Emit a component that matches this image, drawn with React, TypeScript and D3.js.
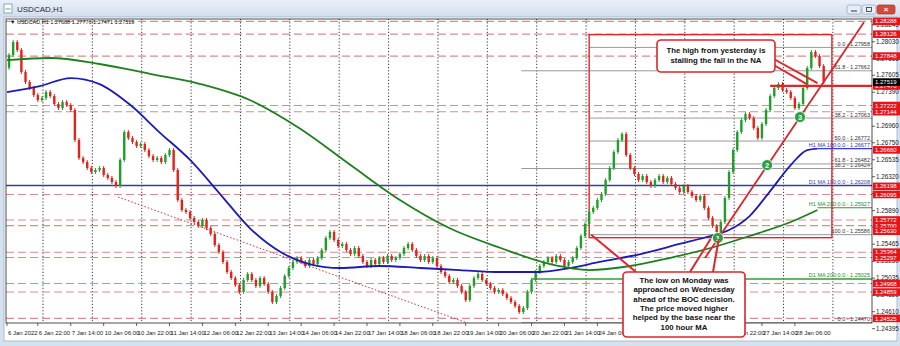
import React from "react";
import * as d3 from "d3";

const W = 900, H = 346;
const PL = 6, PT = 19, PR = 872, PB = 323;

// ---- DATA ----
const firstOpen = 1.277;
// 2-hour closes
const closes = [
  1.27862, 1.28026, 1.27925, 1.27646, 1.2752, 1.27444, 1.27355, 1.27292, 1.27317, 1.27393,
  1.27342, 1.27241, 1.2719, 1.27266, 1.27228, 1.27165, 1.26785, 1.26557, 1.26506, 1.2643,
  1.2638, 1.26405, 1.2643, 1.26342, 1.26304, 1.26253, 1.26202, 1.26532, 1.26886, 1.2681,
  1.2676, 1.26709, 1.26734, 1.26658, 1.26582, 1.26532, 1.26557, 1.26506, 1.26595, 1.26658,
  1.26405, 1.26025, 1.25898, 1.25873, 1.25797, 1.25746, 1.25696, 1.25772, 1.2567, 1.25594,
  1.25455, 1.25366, 1.2524, 1.25113, 1.25037, 1.24948, 1.2486, 1.25012, 1.25088, 1.25012,
  1.24936, 1.25037, 1.24961, 1.2486, 1.24733, 1.24809, 1.2491, 1.25062, 1.25164, 1.2524,
  1.2529, 1.2524, 1.25189, 1.25265, 1.25214, 1.2529, 1.25392, 1.25544, 1.2562, 1.25518,
  1.25442, 1.25468, 1.25392, 1.25341, 1.25417, 1.25316, 1.2524, 1.25189, 1.25265, 1.25214,
  1.2529, 1.2524, 1.25316, 1.25265, 1.2529, 1.25341, 1.25417, 1.25468, 1.25392, 1.25316,
  1.25265, 1.25316, 1.2524, 1.2529, 1.25189, 1.25113, 1.25062, 1.24986, 1.25012, 1.24936,
  1.2486, 1.24758, 1.24936, 1.25037, 1.25088, 1.25012, 1.24961, 1.2491, 1.2486, 1.24885,
  1.24834, 1.24784, 1.24733, 1.24682, 1.24606, 1.24657, 1.2486, 1.25012, 1.25113, 1.25189,
  1.2524, 1.2529, 1.2524, 1.25316, 1.25265, 1.25189, 1.2524, 1.2529, 1.25417, 1.25569,
  1.25721, 1.25873, 1.25924, 1.26025, 1.26101, 1.26278, 1.2643, 1.26633, 1.26785, 1.26861,
  1.26595, 1.2643, 1.26354, 1.26278, 1.26329, 1.26253, 1.26202, 1.26278, 1.26329, 1.26253,
  1.26304, 1.26228, 1.26177, 1.26126, 1.26202, 1.26126, 1.26076, 1.26025, 1.26076, 1.25924,
  1.25797, 1.25696, 1.2562, 1.25746, 1.2605, 1.2638, 1.26658, 1.26886, 1.27038, 1.27114,
  1.27064, 1.26937, 1.2681, 1.26988, 1.27165, 1.27342, 1.27444, 1.27494, 1.27418, 1.27393,
  1.27317, 1.2719, 1.27241, 1.27444, 1.27697, 1.279, 1.27849, 1.27722, 1.27519,
];

const xLabels = [
  "6 Jan 2022", "6 Jan 22:00", "7 Jan 14:00", "10 Jan 06:00", "10 Jan 22:00", "11 Jan 14:00",
  "12 Jan 06:00", "12 Jan 22:00", "13 Jan 14:00", "14 Jan 06:00", "14 Jan 22:00", "17 Jan 14:00",
  "18 Jan 06:00", "18 Jan 22:00", "19 Jan 14:00", "20 Jan 06:00", "20 Jan 22:00", "21 Jan 14:00",
  "24 Jan 06:00", "24 Jan 22:00", "25 Jan 14:00", "26 Jan 06:00", "26 Jan 22:00", "27 Jan 14:00",
  "28 Jan 06:00",
];

const yTicks = [
  1.24395, 1.2461, 1.2482, 1.25035, 1.2525, 1.25465, 1.2568, 1.2589, 1.26105, 1.2632,
  1.26535, 1.2675, 1.2696, 1.27175, 1.2739, 1.27605, 1.27815, 1.2803, 1.28245,
];

const redLevels = [
  1.28288, 1.28126, 1.27848, 1.27222, 1.27144, 1.2666, 1.26198, 1.26095, 1.25772, 1.257,
  1.2563, 1.25364, 1.25297, 1.24968, 1.24859, 1.24525,
];
const dashedLevels = [
  1.28288, 1.28126, 1.27848, 1.27222, 1.27144, 1.26095, 1.25772, 1.257, 1.25364, 1.25297,
  1.24968, 1.24859, 1.24525,
];
const keyLevel = 1.2747;
const lastPrice = 1.27519;

const ma100Hours = [0, 16, 31, 45, 60, 74, 89, 104, 118, 133, 147, 162, 181, 201, 220, 240, 259, 274, 288, 308, 327, 342, 351, 361, 371, 381, 389, 394];
const ma100Vals = [1.27393, 1.27469, 1.2757, 1.27494, 1.27228, 1.26886, 1.26532, 1.26088, 1.2567, 1.25366, 1.25214, 1.25164, 1.25189, 1.25164, 1.25138, 1.25113, 1.25113, 1.25164, 1.2524, 1.25341, 1.25468, 1.25569, 1.25645, 1.25822, 1.26138, 1.26468, 1.26658, 1.26677];
const ma200Hours = [0, 21, 45, 70, 94, 118, 142, 167, 191, 215, 240, 264, 283, 303, 322, 342, 361, 381, 394];
const ma200Vals = [1.27798, 1.27824, 1.27748, 1.27621, 1.27494, 1.27292, 1.26937, 1.26468, 1.26025, 1.2567, 1.25417, 1.25214, 1.25138, 1.25189, 1.2529, 1.25417, 1.25569, 1.25746, 1.25898];

const h1Ma100 = 1.26677, h1Ma200 = 1.25927, d1Ma100 = 1.26208, d1Ma200 = 1.25025;

const fibBNames = ["0.0", "38.2", "50.0", "61.8", "100.0"];
const fibBVals = [1.27958, 1.27063, 1.26772, 1.26482, 1.25586];
const fibANames = ["0.0", "38.2", "61.8"];
const fibAVals = [1.2447, 1.26424, 1.27662];

const circleNames = ["1", "2", "3"];
const circleHours = [345.6, 369.5, 385.5];
const circleVals = [1.25544, 1.26468, 1.27076];

const trendHours = [339.3, 416.6];
const trendVals = [1.2529, 1.28278];
const dotHours = [54, 225];
const dotVals = [1.26063, 1.24455];
const boxHours = [283, 401];
const boxVals = [1.2812, 1.25586];

const note1 = ["The high from yesterday is", "stalling the fall in the NA"];
const note2 = [
  "The low on Monday was", "approached on Wednesday", "ahead of the BOC decision.",
  "The price moved higher", "helped by the base near the", "100 hour MA",
];

export default function App() {
  const x = d3.scaleLinear().domain([0, 420.5]).range([PL + 1, PR]);
  const y = d3.scaleLinear().domain([1.24467, 1.28318]).range([PB, PT]);
  const f = "'Liberation Sans', Arial, sans-serif";

  const candles = closes.map((c, i) => {
    const o = i === 0 ? firstOpen : closes[i - 1];
    return { h: 2 * i + 1, o, c };
  });

  const line = d3.line<number>().curve(d3.curveMonotoneX);
  const ma100Path = line(ma100Hours.map((h, i) => [x(h), y(ma100Vals[i])] as any) as any);
  const ma200Path = line(ma200Hours.map((h, i) => [x(h), y(ma200Vals[i])] as any) as any);

  const gridHours = d3.range(17.5, 420, 24);
  const labelHours = xLabels.map((_, k) => (k === 0 ? 0 : 15 + 16 * (k - 1)));

  return (
    <svg width={W} height={H} style={{ position: "absolute", left: 0, top: 0, fontFamily: f }}>
      <defs>
        <linearGradient id="tb" x1="0" y1="0" x2="0" y2="1">
          <stop offset="0" stopColor="#eaf0f8" />
          <stop offset="1" stopColor="#d3deeb" />
        </linearGradient>
        <clipPath id="plot">
          <rect x={PL} y={PT} width={PR - PL} height={PB - PT} />
        </clipPath>
      </defs>
      {/* window chrome */}
      <rect x={0} y={0} width={W} height={H} fill="#d6e1ee" />
      <rect x={0} y={0} width={W} height={17} fill="url(#tb)" />
      <rect x={4} y={4} width={8} height={9} fill="#fff" stroke="#7a93b3" strokeWidth={0.8} />
      <line x1={5.5} y1={9} x2={10.5} y2={9} stroke="#5a9" strokeWidth={1} />
      <text x={17} y={11.5} fontSize={8} fill="#1e2a3a">USDCAD,H1</text>
      <rect x={847} y={5} width={14} height={9} rx={2} fill="#e6edf6" stroke="#8ea3bd" strokeWidth={0.7} />
      <line x1={851} y1={11} x2={857} y2={11} stroke="#333" strokeWidth={1} />
      <rect x={862} y={5} width={14} height={9} rx={2} fill="#e6edf6" stroke="#8ea3bd" strokeWidth={0.7} />
      <rect x={866.5} y={7.5} width={5} height={4} fill="none" stroke="#333" strokeWidth={0.8} />
      <rect x={877} y={5} width={18} height={9} rx={2} fill="#d9473a" stroke="#a83228" strokeWidth={0.7} />
      <text x={886} y={12.3} fontSize={8} fill="#fff" textAnchor="middle" fontWeight="bold">×</text>
      <rect x={4} y={17} width={893} height={324} fill="#fff" stroke="#9fb3cb" strokeWidth={0.8} />

      {/* grid */}
      {gridHours.map((h, i) => (
        <line key={"g" + i} x1={x(h)} x2={x(h)} y1={PT} y2={PB} stroke="#000" strokeWidth={0.8} strokeDasharray="1.2 2" />
      ))}

      <g clipPath="url(#plot)">
        {dashedLevels.map((v, i) => (
          <line key={"d" + i} x1={PL} x2={PR} y1={y(v)} y2={y(v)} stroke="#d98c8c" strokeWidth={1.1} strokeDasharray="8 4" />
        ))}
        {fibAVals.map((v, i) => (
          <g key={"fa" + i}>
            <line x1={x(250)} x2={PR} y1={y(v)} y2={y(v)} stroke="#9a9a9a" strokeWidth={1} />
            <text x={PR - 2} y={y(v) - 1.5} fontSize={5.5} textAnchor="end" fill="#333">{fibANames[i]} - {v.toFixed(5)}</text>
          </g>
        ))}
        {fibBVals.map((v, i) => (
          <g key={"fb" + i}>
            <line x1={x(283)} x2={PR} y1={y(v)} y2={y(v)} stroke="#9a9a9a" strokeWidth={1} />
            <text x={PR - 2} y={y(v) - 1.5} fontSize={5.5} textAnchor="end" fill="#333">{fibBNames[i]} - {v.toFixed(5)}</text>
          </g>
        ))}
        <line x1={PL} x2={PR} y1={y(d1Ma100)} y2={y(d1Ma100)} stroke="#3b3ba8" strokeWidth={1.4} />
        <text x={PR - 2} y={y(d1Ma100) - 1.5} fontSize={5.5} textAnchor="end" fill="#3b3ba8">D1 MA 100:0.0 - {d1Ma100.toFixed(5)}</text>
        <line x1={x(255)} x2={PR} y1={y(d1Ma200)} y2={y(d1Ma200)} stroke="#3a9a3a" strokeWidth={1.4} />
        <text x={PR - 2} y={y(d1Ma200) - 1.5} fontSize={5.5} textAnchor="end" fill="#2a8a2a">D1 MA 200:0.0 - {d1Ma200.toFixed(5)}</text>

        <rect x={x(boxHours[0])} y={y(boxVals[0])} width={x(boxHours[1]) - x(boxHours[0])} height={y(boxVals[1]) - y(boxVals[0]) + 3} fill="none" stroke="#e0262b" strokeWidth={1.4} />

        <line x1={x(dotHours[0])} y1={y(dotVals[0])} x2={x(dotHours[1])} y2={y(dotVals[1])} stroke="#d03030" strokeWidth={1} strokeDasharray="1.5 2" />

        {candles.map((d, i) => {
          const up = d.c >= d.o;
          const col = up ? "#1f9e2a" : "#e2231a";
          const top = y(Math.max(d.o, d.c));
          const bot = y(Math.min(d.o, d.c));
          const cx = x(d.h);
          return (
            <g key={"c" + i}>
              <line x1={cx} x2={cx} y1={top - 2} y2={bot + 2} stroke={col} strokeWidth={1} />
              <rect x={cx - 1.2} y={top} width={2.4} height={Math.max(1, bot - top)} fill={col} />
            </g>
          );
        })}

        <path d={ma100Path || ""} fill="none" stroke="#1c1cb4" strokeWidth={1.8} />
        <path d={ma200Path || ""} fill="none" stroke="#1f7f1f" strokeWidth={1.8} />
        <line x1={x(394)} x2={PR} y1={y(h1Ma100)} y2={y(h1Ma100)} stroke="#3b3bd0" strokeWidth={1.2} />
        <text x={PR - 2} y={y(h1Ma100) - 1.5} fontSize={5.5} textAnchor="end" fill="#3030c0">H1 MA 100:0.0 - {h1Ma100.toFixed(5)}</text>
        <line x1={x(394)} x2={PR} y1={y(h1Ma200)} y2={y(h1Ma200)} stroke="#2a9a2a" strokeWidth={1.2} />
        <text x={PR - 2} y={y(h1Ma200) - 1.5} fontSize={5.5} textAnchor="end" fill="#2a8a2a">H1 MA 200:0.0 - {h1Ma200.toFixed(5)}</text>

        <line x1={x(371)} x2={PR} y1={y(keyLevel)} y2={y(keyLevel)} stroke="#e0262b" strokeWidth={2.2} />

        <line x1={x(trendHours[0])} y1={y(trendVals[0])} x2={x(trendHours[1])} y2={y(trendVals[1])} stroke="#d8262b" strokeWidth={1.8} />

        {circleNames.map((n, i) => (
          <g key={"ci" + i}>
            <circle cx={x(circleHours[i])} cy={y(circleVals[i])} r={5.5} fill="#2f9c46" stroke="#fff" strokeWidth={0.8} />
            <text x={x(circleHours[i])} y={y(circleVals[i]) + 2.6} fontSize={7.5} fill="#fff" textAnchor="middle" fontWeight="bold">{n}</text>
          </g>
        ))}
        <text x={PL + 4} y={PT + 5} fontSize={5.5} fill="#111">▼ USDCAD,H1  1.27688 1.27776 1.27471 1.27519</text>
      </g>

      <rect x={PL} y={PT} width={PR - PL} height={PB - PT} fill="none" stroke="#222" strokeWidth={0.8} />

      {yTicks.map((v, i) => (
        <g key={"yt" + i}>
          <line x1={PR} x2={PR + 3} y1={y(v)} y2={y(v)} stroke="#222" strokeWidth={0.7} />
          <text x={PR + 4} y={y(v) + 2.2} fontSize={6.3} fill="#222">{v.toFixed(5)}</text>
        </g>
      ))}
      {redLevels.concat([keyLevel]).map((v, i) => (
        <g key={"rl" + i}>
          <rect x={PR + 1} y={y(v) - 3.8} width={27} height={7.6} fill="#e3161c" />
          <text x={PR + 3} y={y(v) + 2.1} fontSize={6} fill="#fff">{v.toFixed(5)}</text>
        </g>
      ))}
      <rect x={PR + 1} y={y(lastPrice) - 3.8} width={27} height={7.6} fill="#000" />
      <text x={PR + 3} y={y(lastPrice) + 2.1} fontSize={6} fill="#fff">{lastPrice.toFixed(5)}</text>

      {xLabels.map((t, k) => (
        <g key={"xl" + k}>
          <line x1={x(labelHours[k])} x2={x(labelHours[k])} y1={PB} y2={PB + 3} stroke="#222" strokeWidth={0.7} />
          <text x={x(labelHours[k]) + 1} y={PB + 12} fontSize={6} fill="#222">{t}</text>
        </g>
      ))}

      <line x1={772} y1={58} x2={x(394)} y2={y(1.27505)} stroke="#e0262b" strokeWidth={2} />
      <line x1={772} y1={64} x2={x(389)} y2={y(1.2749)} stroke="#e0262b" strokeWidth={2} />
      <rect x={657} y={40} width={118} height={32} rx={4} fill="#fff" stroke="#d8262b" strokeWidth={1.6} />
      {note1.map((t, i) => (
        <text key={"n1" + i} x={716} y={53 + i * 10} fontSize={7.8} fontWeight="bold" textAnchor="middle" fill="#111">{t}</text>
      ))}

      <line x1={636} y1={272} x2={x(284)} y2={y(1.25586)} stroke="#e0262b" strokeWidth={2} />
      <line x1={690} y1={272} x2={x(342)} y2={y(1.2553)} stroke="#e0262b" strokeWidth={2} />
      <line x1={713} y1={272} x2={x(346)} y2={y(1.2553)} stroke="#e0262b" strokeWidth={2} />
      <rect x={623} y={272} width={122} height={65} rx={4} fill="#fff" stroke="#d8262b" strokeWidth={1.6} />
      {note2.map((t, i) => (
        <text key={"n2" + i} x={684} y={283 + i * 9.3} fontSize={7.8} fontWeight="bold" textAnchor="middle" fill="#111">{t}</text>
      ))}
    </svg>
  );
}
